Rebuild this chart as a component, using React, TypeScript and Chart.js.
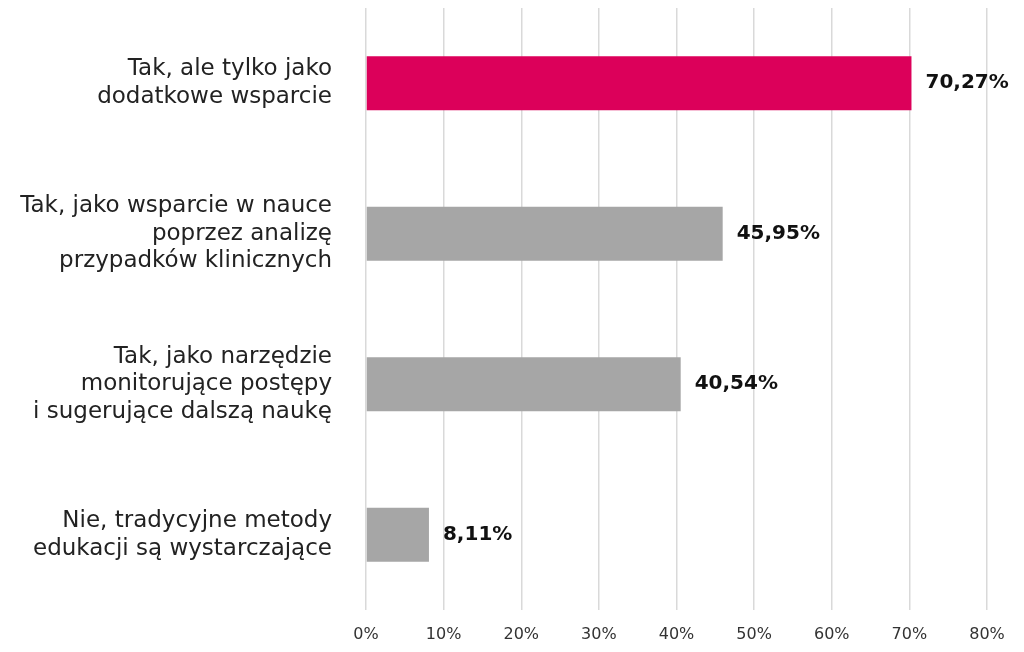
import { Chart, registerables } from "chart.js";
import { useEffect, useRef } from "react";

Chart.register(...registerables);

const CATEGORIES = [
	["Tak, ale tylko jako", "dodatkowe wsparcie"],
	["Tak, jako wsparcie w nauce", "poprzez analizę", "przypadków klinicznych"],
	["Tak, jako narzędzie", "monitorujące postępy", "i sugerujące dalszą naukę"],
	["Nie, tradycyjne metody", "edukacji są wystarczające"],
];
const VALUES = [70.27, 45.95, 40.54, 8.11];
const BAR_COLORS = ["#DC005A", "#A6A6A6", "#A6A6A6", "#A6A6A6"];
const X_TICKS = [0, 10, 20, 30, 40, 50, 60, 70, 80];

const FONT = "'DejaVu Sans', sans-serif";

const valueLabels = {
	id: "valueLabels",
	afterDatasetsDraw(chart: Chart) {
		const ctx = chart.ctx;
		const meta = chart.getDatasetMeta(0);
		ctx.save();
		ctx.font = `bold 20px ${FONT}`;
		ctx.fillStyle = "#111";
		ctx.textAlign = "left";
		ctx.textBaseline = "middle";
		meta.data.forEach((bar: any, i: number) => {
			const text = VALUES[i].toFixed(2).replace(".", ",") + "%";
			ctx.fillText(text, bar.x + 14, bar.y);
		});
		ctx.restore();
	},
};

export default function App() {
	const ref = useRef<HTMLCanvasElement>(null);

	useEffect(() => {
		const canvas = ref.current;
		if (!canvas) {
			return;
		}

		const chart = new Chart(canvas, {
			type: "bar",
			data: {
				labels: CATEGORIES,
				datasets: [
					{
						data: VALUES,
						backgroundColor: BAR_COLORS,
						barPercentage: 0.36,
						categoryPercentage: 1,
					},
				],
			},
			options: {
				indexAxis: "y",
				animation: false,
				responsive: false,
				layout: { padding: { top: 8, right: 37, left: 0, bottom: 0 } },
				plugins: {
					legend: { display: false },
					tooltip: { enabled: false },
				},
				scales: {
					x: {
						min: 0,
						max: 80,
						afterBuildTicks: (scale: any) => {
							scale.ticks = X_TICKS.map((v) => ({ value: v }));
						},
						afterFit: (scale: any) => {
							scale.height = 42;
							scale.paddingLeft = 0;
							scale.paddingRight = 0;
						},
						border: { display: false },
						grid: { color: "#D9D9D9", lineWidth: 1.5, drawTicks: false },
						ticks: {
							padding: 15,
							color: "#333",
							font: { family: FONT, size: 16 },
							callback: (v: any) => v + "%",
						},
					},
					y: {
						afterFit: (scale: any) => {
							scale.width = 366;
							scale.paddingTop = 0;
							scale.paddingBottom = 0;
						},
						border: { display: false },
						grid: { display: false, drawTicks: false },
						ticks: {
							padding: 34,
							color: "#222",
							font: { family: FONT, size: 23, lineHeight: 1.2 },
						},
					},
				},
			},
			plugins: [valueLabels],
		});

		return () => {
			chart.destroy();
		};
	}, []);

	return (
		<div style={{ position: "absolute", left: 0, top: 0, width: 1024, height: 652, background: "#fff" }}>
			<canvas ref={ref} width={1024} height={652} style={{ width: 1024, height: 652 }} />
		</div>
	);
}
